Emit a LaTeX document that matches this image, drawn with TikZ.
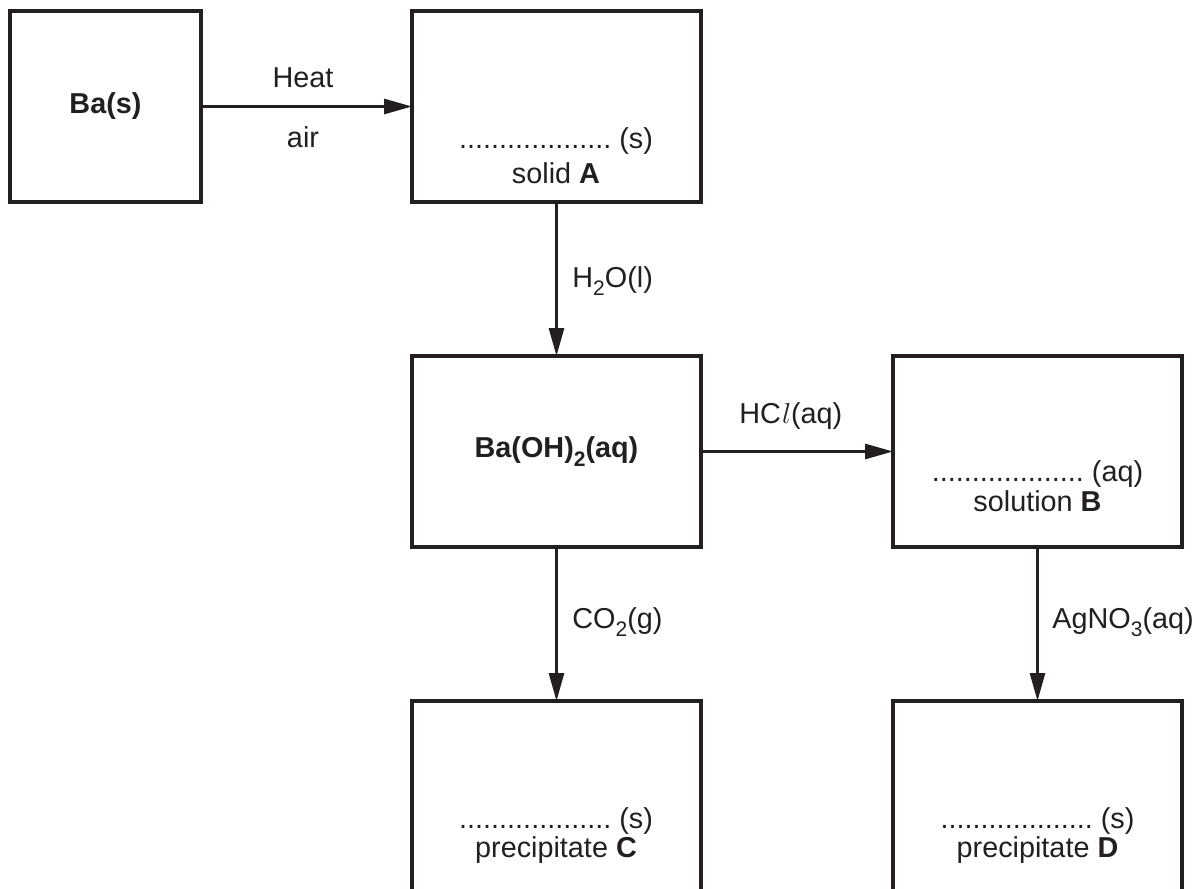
\documentclass[tikz,border=0pt]{standalone}
\usepackage{fontspec}
\setmainfont{Liberation Sans}
\usetikzlibrary{arrows.meta}
\definecolor{ink}{RGB}{35,31,32}
\newcommand\chemsub[1]{\raisebox{-0.3em}{\fontsize{10.5}{10.5}\selectfont #1}}
\begin{document}
\begin{tikzpicture}[x=0.5pt,y=-0.5pt,
  box/.style={draw=ink, line width=1.6pt, minimum width=144.5pt, minimum height=95.5pt, inner sep=0pt, outer sep=0pt, text=ink, font=\fontsize{14.4}{17}\selectfont\bfseries},
  flow/.style={draw=ink, line width=1.4pt, -{Triangle[length=14pt,width=7.5pt]}},
  txt/.style={text=ink, inner sep=0pt, anchor=base, font=\fontsize{14.4}{17}\selectfont\frenchspacing},
  lbl/.style={txt, anchor=base west},
]
\useasboundingbox (0,0) rectangle (1201,889);
\clip (0,0) rectangle (1201,889);
% boxes
\node[box, minimum width=95.5pt] (ba) at (105.5,106.5) {Ba(s)};
\node[box] (a) at (556.5,106.5) {};
\node[box] (baoh) at (556.5,451.5) {Ba(OH)\chemsub{2}(aq)};
\node[box] (b) at (1037.5,451.5) {};
\node[box] (c) at (556.5,796.5) {};
\node[box] (d) at (1037.5,796.5) {};
% box texts
\node[txt] (adots) at (556,148) {................... (s)};
\node[txt] (alab) at (556,183) {solid \textbf{A}};
\node[txt] (bdots) at (1037.5,481.5) {................... (aq)};
\node[txt] (blab) at (1037.5,511.5) {solution \textbf{B}};
\node[txt] (cdots) at (556,828) {................... (s)};
\node[txt] (clab) at (556,857) {precipitate \textbf{C}};
\node[txt] (ddots) at (1037.5,828) {................... (s)};
\node[txt] (dlab) at (1037.5,857) {precipitate \textbf{D}};
% connectors
\draw[flow] (ba) -- (a);
\draw[flow] (a) -- (baoh);
\draw[flow] (baoh) -- (b);
\draw[flow] (baoh) -- (c);
\draw[flow] (b) -- (d);
% labels
\node[txt] (heat) at (303,87) {Heat};
\node[txt] (air) at (303,147) {air};
\node[lbl] (water) at (572,287) {H\chemsub{2}O(l)};
\node[lbl] (hcl) at (739,423) {HC\kern0.5pt$l$(aq)};
\node[lbl] (co2) at (572,628) {CO\chemsub{2}(g)};
\node[lbl] (agno3) at (1052,628) {AgNO\chemsub{3}(aq)};
\end{tikzpicture}
\end{document}
